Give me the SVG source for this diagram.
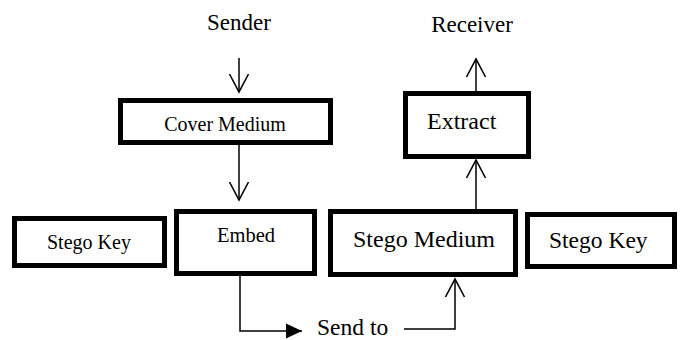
<svg xmlns="http://www.w3.org/2000/svg" width="680" height="340" viewBox="0 0 680 340">
<style>
.box{fill:#fff;stroke:#000;stroke-width:5}
.t{font-family:'Liberation Serif','Tinos','Times New Roman','DejaVu Serif',serif;fill:#000}
.c{fill:none;stroke:#000;stroke-width:1.5}
</style>
<defs>
<marker id="open" viewBox="-20 -12 24 24" refX="0" refY="0" markerWidth="24" markerHeight="24" markerUnits="userSpaceOnUse" orient="auto">
<path d="M-18,-9.5 L0,0 L-18,9.5" fill="none" stroke="#000" stroke-width="1.6"/>
</marker>
<marker id="solid" viewBox="-18 -9 20 18" refX="0" refY="0" markerWidth="20" markerHeight="18" markerUnits="userSpaceOnUse" orient="auto">
<path d="M-16,-7.5 L0,0 L-16,7.5 Z" fill="#000"/>
</marker>
</defs>
<g id="sender"><text class="t" x="239" y="30" font-size="23" text-anchor="middle">Sender</text></g>
<g id="receiver"><text class="t" x="472" y="32" font-size="23" text-anchor="middle">Receiver</text></g>
<g id="cover-medium"><rect class="box" x="120.5" y="100.5" width="210" height="42"/><text class="t" x="225" y="131" font-size="20" text-anchor="middle">Cover Medium</text></g>
<g id="extract"><rect class="box" x="405.5" y="93.5" width="123" height="63"/><text class="t" x="427" y="129" font-size="24">Extract</text></g>
<g id="stego-key-left"><rect class="box" x="14.5" y="218.5" width="150" height="47"/><text class="t" x="47" y="249" font-size="20">Stego Key</text></g>
<g id="embed"><rect class="box" x="176.5" y="211.5" width="138" height="62"/><text class="t" x="217" y="242" font-size="20.5">Embed</text></g>
<g id="stego-medium"><rect class="box" x="330.5" y="211.5" width="185" height="63"/><text class="t" x="353" y="247" font-size="24">Stego Medium</text></g>
<g id="stego-key-right"><rect class="box" x="527.5" y="214.5" width="147" height="52"/><text class="t" x="549" y="248" font-size="23.5">Stego Key</text></g>
<g id="send-to"><text class="t" x="317" y="335" font-size="23.5">Send to</text></g>
<g id="connectors">
<path class="c" d="M239,58 V92" marker-end="url(#open)"/>
<path class="c" d="M239,145 V200" marker-end="url(#open)"/>
<path class="c" d="M476,91 V59" marker-end="url(#open)"/>
<path class="c" d="M476,209 V160" marker-end="url(#open)"/>
<path class="c" d="M240,276 V331 H302" marker-end="url(#solid)"/>
<path class="c" d="M404,329 H455 V279" marker-end="url(#open)"/>
</g>
</svg>
